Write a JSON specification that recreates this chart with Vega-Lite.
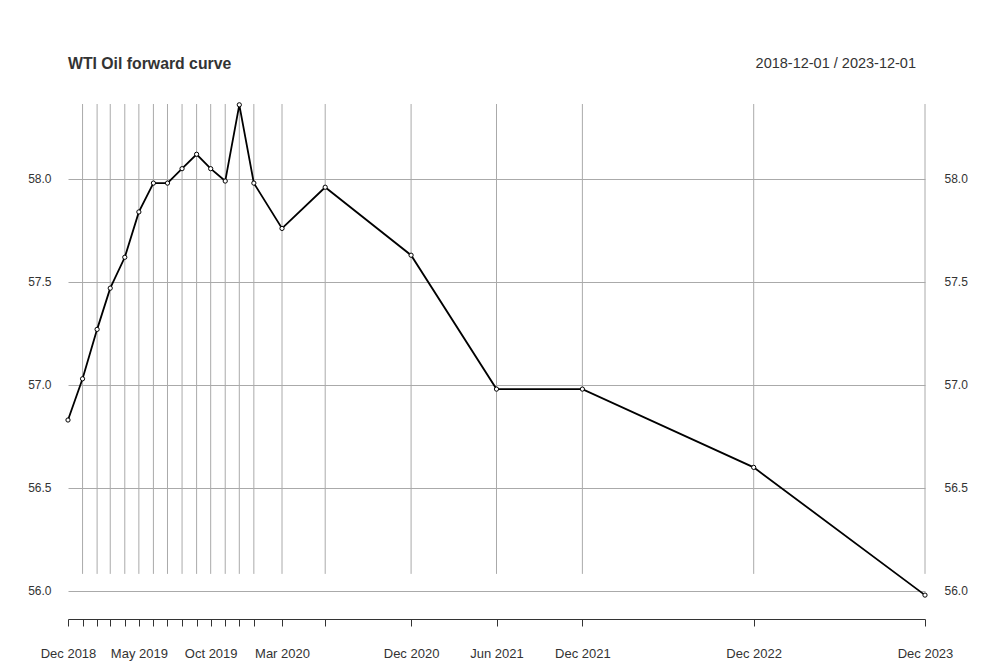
{
  "$schema": "https://vega.github.io/schema/vega-lite/v6.json",
  "width": 857,
  "height": 515,
  "autosize": {"type": "none"},
  "padding": {"left": 68, "top": 104, "right": 69, "bottom": 52},
  "background": "white",
  "config": {"view": {"stroke": null}, "font": "Liberation Sans"},
  "data": {"values": [
    {"date": "2018-12-01", "price": 56.83},
    {"date": "2019-01-01", "price": 57.03},
    {"date": "2019-02-01", "price": 57.27},
    {"date": "2019-03-01", "price": 57.47},
    {"date": "2019-04-01", "price": 57.62},
    {"date": "2019-05-01", "price": 57.84},
    {"date": "2019-06-01", "price": 57.98},
    {"date": "2019-07-01", "price": 57.98},
    {"date": "2019-08-01", "price": 58.05},
    {"date": "2019-09-01", "price": 58.12},
    {"date": "2019-10-01", "price": 58.05},
    {"date": "2019-11-01", "price": 57.99},
    {"date": "2019-12-01", "price": 58.36},
    {"date": "2020-01-01", "price": 57.98},
    {"date": "2020-03-01", "price": 57.76},
    {"date": "2020-06-01", "price": 57.96},
    {"date": "2020-12-01", "price": 57.63},
    {"date": "2021-06-01", "price": 56.98},
    {"date": "2021-12-01", "price": 56.98},
    {"date": "2022-12-01", "price": 56.6},
    {"date": "2023-12-01", "price": 55.98}
  ]},
  "resolve": {"axis": {"y": "independent"}},
  "layer": [
    {
      "transform": [{"filter": "utcyear(datum.date) > 2018"}],
      "mark": {"type": "rule", "color": "#aaaaaa", "strokeWidth": 1},
      "encoding": {
        "x": {"field": "date", "type": "temporal", "scale": {"type": "utc", "nice": false}},
        "y": {"datum": 56.083, "type": "quantitative", "scale": {"domain": [55.864, 58.364], "nice": false, "zero": false}, "axis": null},
        "y2": {"datum": 58.364}
      }
    },
    {
      "mark": {"type": "line", "color": "black", "strokeWidth": 1.8},
      "encoding": {
        "x": {"field": "date", "type": "temporal", "scale": {"type": "utc", "nice": false},
          "axis": {
            "title": null,
            "values": [
              {"year": 2018, "month": 12, "date": 1, "utc": true},
              {"year": 2019, "month": 1, "date": 1, "utc": true},
              {"year": 2019, "month": 2, "date": 1, "utc": true},
              {"year": 2019, "month": 3, "date": 1, "utc": true},
              {"year": 2019, "month": 4, "date": 1, "utc": true},
              {"year": 2019, "month": 5, "date": 1, "utc": true},
              {"year": 2019, "month": 6, "date": 1, "utc": true},
              {"year": 2019, "month": 7, "date": 1, "utc": true},
              {"year": 2019, "month": 8, "date": 1, "utc": true},
              {"year": 2019, "month": 9, "date": 1, "utc": true},
              {"year": 2019, "month": 10, "date": 1, "utc": true},
              {"year": 2019, "month": 11, "date": 1, "utc": true},
              {"year": 2019, "month": 12, "date": 1, "utc": true},
              {"year": 2020, "month": 1, "date": 1, "utc": true},
              {"year": 2020, "month": 3, "date": 1, "utc": true},
              {"year": 2020, "month": 6, "date": 1, "utc": true},
              {"year": 2020, "month": 12, "date": 1, "utc": true},
              {"year": 2021, "month": 6, "date": 1, "utc": true},
              {"year": 2021, "month": 12, "date": 1, "utc": true},
              {"year": 2022, "month": 12, "date": 1, "utc": true},
              {"year": 2023, "month": 12, "date": 1, "utc": true}
            ],
            "labelExpr": "indexof(['Dec 2018','May 2019','Oct 2019','Mar 2020','Dec 2020','Jun 2021','Dec 2021','Dec 2022','Dec 2023'], utcFormat(datum.value, '%b %Y')) >= 0 ? utcFormat(datum.value, '%b %Y') : ''",
            "labelOverlap": false,
            "labelBound": false,
            "labelFlush": false,
            "grid": false,
            "domainColor": "#333333",
            "domainWidth": 1,
            "tickColor": "#333333",
            "tickSize": 7,
            "labelPadding": 21,
            "labelFontSize": 13,
            "labelColor": "#333333",
            "labelFont": "Liberation Sans"
          }
        },
        "y": {"field": "price", "type": "quantitative",
          "scale": {"domain": [55.864, 58.364], "nice": false, "zero": false},
          "axis": {"orient": "left", "title": null, "values": [56, 56.5, 57, 57.5, 58], "format": ".1f", "grid": true, "gridColor": "#aaaaaa", "gridWidth": 1, "gridOpacity": 1, "domain": false, "ticks": false, "labelPadding": 17, "labelFontSize": 12, "labelColor": "#333333", "labelFont": "Liberation Sans"}
        }
      }
    },
    {
      "mark": {"type": "point", "shape": "circle", "filled": false, "color": "black", "fill": "white", "fillOpacity": 1, "strokeWidth": 1, "size": 18, "opacity": 1},
      "encoding": {
        "x": {"field": "date", "type": "temporal", "scale": {"type": "utc", "nice": false}},
        "y": {"field": "price", "type": "quantitative",
          "scale": {"domain": [55.864, 58.364], "nice": false, "zero": false},
          "axis": {"orient": "right", "title": null, "values": [56, 56.5, 57, 57.5, 58], "format": ".1f", "grid": false, "domain": false, "ticks": false, "labelPadding": 19, "labelFontSize": 12, "labelColor": "#333333", "labelFont": "Liberation Sans"}
        }
      }
    },
    {
      "data": {"values": [{"label": "WTI Oil forward curve"}]},
      "mark": {"type": "text", "align": "left", "baseline": "middle", "dy": -40, "fontSize": 15.8, "fontWeight": "bold", "color": "#333333", "font": "Liberation Sans"},
      "encoding": {
        "text": {"field": "label"},
        "x": {"datum": {"year": 2018, "month": 12, "date": 1, "utc": true}, "type": "temporal"},
        "y": {"datum": 58.364, "type": "quantitative", "axis": null}
      }
    },
    {
      "data": {"values": [{"label": "2018-12-01 / 2023-12-01"}]},
      "mark": {"type": "text", "align": "right", "baseline": "middle", "dy": -40, "dx": -9, "fontSize": 14.5, "color": "#333333", "font": "Liberation Sans"},
      "encoding": {
        "text": {"field": "label"},
        "x": {"datum": {"year": 2023, "month": 12, "date": 1, "utc": true}, "type": "temporal"},
        "y": {"datum": 58.364, "type": "quantitative", "axis": null}
      }
    }
  ]
}
